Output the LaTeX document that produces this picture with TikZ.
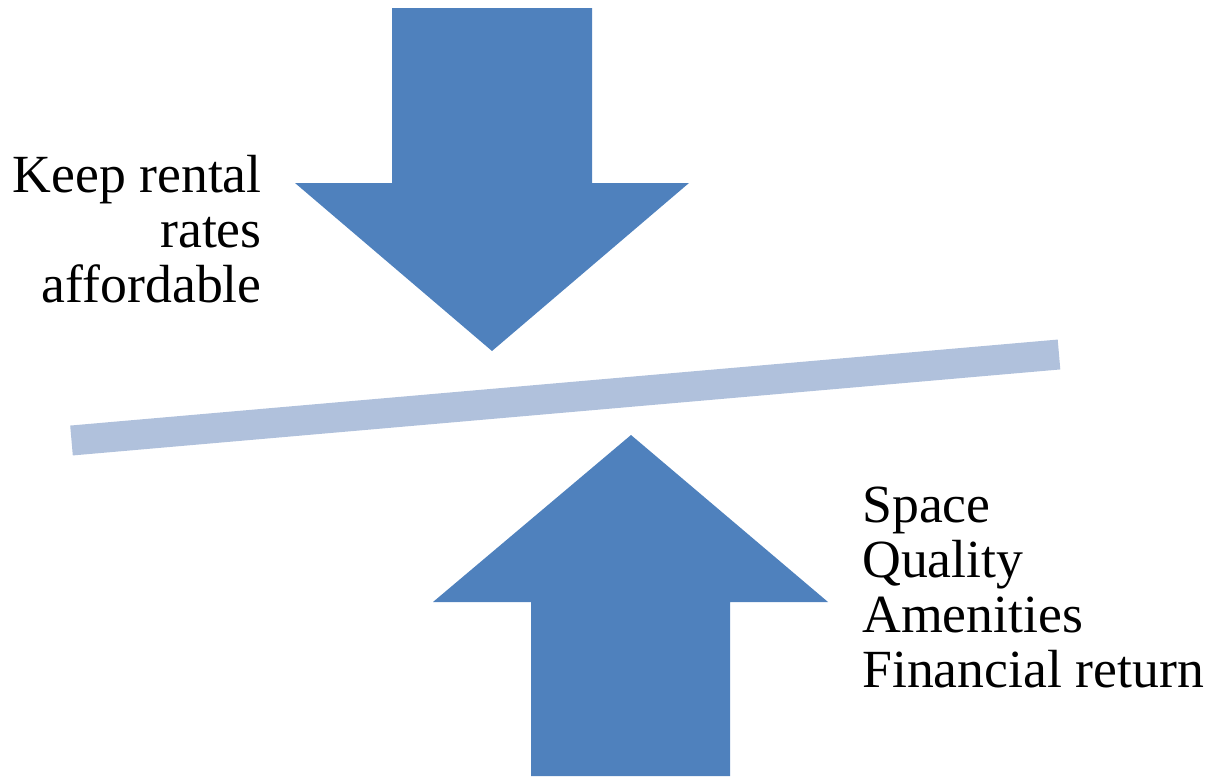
\documentclass[tikz,border=0pt]{standalone}
\usepackage{fontspec}
\setmainfont{Liberation Serif}
\definecolor{arrowblue}{HTML}{4F81BD}
\definecolor{barblue}{HTML}{B0C1DC}

\begin{document}
\begin{tikzpicture}[
            x=0.025cm, y=-0.025cm,
            push/.style={fill=arrowblue, draw=none},
            beam/.style={draw=barblue, line width=30*0.025cm},
            label/.style={inner sep=0pt, font=\fontsize{38.2}{39}\selectfont}
        ]
            \useasboundingbox (0,0) rectangle (1216,776);

            % balance beam
            \coordinate (beamleft) at (71.5,440.5);
            \coordinate (beamright) at (1059,354.5);
            \draw[beam] (beamleft) -- (beamright);

            % pressure from above
            \fill[push] (392,8) -- (592,8) -- (592,183) -- (689,183)
                -- (492,351) -- (295,183) -- (392,183) -- cycle;

            % pressure from below
            \fill[push] (531,776) -- (730,776) -- (730,602) -- (828,602)
                -- (631,435) -- (433,602) -- (531,602) -- cycle;

            \node[label, anchor=base east, align=right] (afford) at (262,302)
                {Keep rental\\rates\\affordable};
            \node[label, anchor=base west, align=left] (needs) at (862,687)
                {Space\\Quality\\Amenities\\Financial return};
        \end{tikzpicture}
\end{document}
